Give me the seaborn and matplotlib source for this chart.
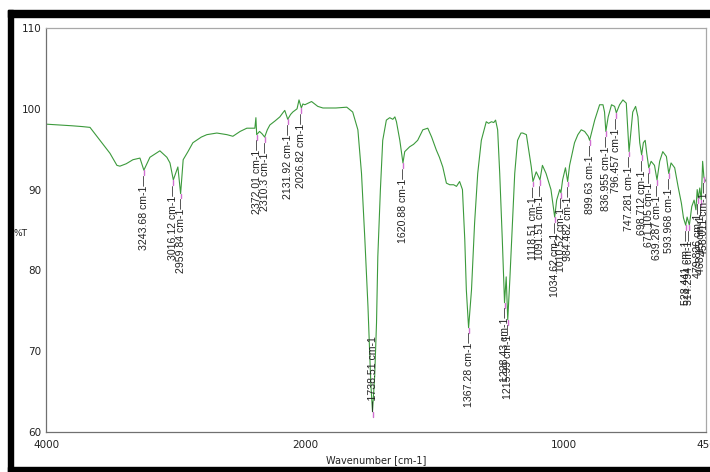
import numpy as np
import matplotlib
matplotlib.use("Agg")
import matplotlib.pyplot as plt
from matplotlib.patches import Rectangle
import seaborn as sns

# IR spectrum (wavenumber in cm-1, transmittance in %T)
wavenumber = [
    4000, 3900, 3800, 3720, 3660, 3583, 3506, 3452, 3429, 3380, 3328, 3274,
    3243.68, 3197, 3120, 3066, 3042, 3016.12, 2981, 2959.84, 2940, 2903, 2865,
    2800, 2757, 2680, 2602, 2556, 2500, 2448, 2386, 2378, 2372.01, 2350, 2330,
    2310.3, 2290, 2270, 2230, 2193, 2170, 2155, 2131.92, 2110, 2093, 2060, 2045,
    2026.82, 2015, 2000, 1974, 1950, 1930, 1880, 1838, 1815, 1795, 1781, 1768,
    1756, 1745, 1738.51, 1730, 1723, 1718, 1708, 1699, 1685, 1672, 1660, 1652,
    1646, 1633, 1620.88, 1614, 1595, 1580, 1564, 1544, 1525, 1510, 1492, 1480,
    1467, 1453, 1440, 1425, 1414, 1402, 1391, 1382, 1376, 1367.28, 1356, 1344,
    1332, 1318, 1299, 1290, 1279, 1270, 1263, 1255, 1247, 1237, 1228.43, 1222,
    1215.99, 1208, 1198, 1189, 1178, 1165, 1158, 1144, 1135, 1125, 1118.51,
    1106, 1097, 1091.51, 1082, 1068, 1049, 1034.62, 1027, 1015, 1010.52, 1004,
    993, 984.482, 977, 958, 945, 932, 919, 905, 899.63, 880, 861, 848, 842,
    836.955, 828, 815, 803, 796.457, 784, 771, 758, 747.281, 733, 722, 713, 706,
    698.712, 692, 685, 679, 671.105, 662, 649, 639.287, 629, 617, 603, 593.968,
    585, 571, 558, 545, 537, 528.441, 523, 514.294, 505, 496, 489, 484, 479.826,
    474, 468.15, 463, 458.011, 450,
]
transmittance = [
    98.1, 98.0, 97.9, 97.8, 97.7, 96.1, 94.5, 93.0, 92.9, 93.2, 93.7, 93.9,
    92.4, 94.0, 94.8, 94.0, 93.3, 91.2, 92.8, 89.5, 93.7, 94.7, 95.8,
    96.5, 96.8, 97.0, 96.8, 96.6, 97.2, 97.6, 97.6, 98.9, 96.8, 97.2, 96.9,
    96.5, 97.4, 98.0, 98.5, 99.0, 99.5, 99.8, 98.7, 99.3, 99.6, 100.0, 101.1,
    100.1, 100.6, 100.5, 100.9, 100.3, 100.1, 100.1, 100.2, 99.6, 97.4, 92.0, 83.8,
    75.5, 66.0, 62.5, 67.0, 73.5, 81.7, 90.0, 96.1, 98.6, 98.9, 98.7, 99.0,
    98.4, 96.1, 93.3, 94.7, 95.3, 95.6, 96.1, 97.4, 97.6, 96.5, 94.9, 94.0,
    92.8, 90.8, 90.6, 90.6, 90.4, 91.0, 90.0, 83.8, 77.6, 72.9, 77.6, 85.9,
    92.0, 96.1, 98.4, 98.2, 98.4, 98.3, 98.6, 97.4, 92.0, 83.8, 76.0, 79.2,
    73.9, 78.8, 85.9, 92.0, 96.1, 97.0, 97.0, 96.8, 94.9, 92.8, 91.0,
    92.2, 91.6, 91.2, 93.0, 92.0, 90.0, 86.6, 88.7, 90.0, 89.6, 91.2,
    92.7, 91.0, 93.0, 95.8, 96.8, 97.4, 97.2, 96.6, 96.1, 98.6, 100.5, 100.5, 99.6,
    97.2, 99.0, 100.5, 100.3, 99.5, 100.5, 101.1, 100.7, 94.7, 99.6, 100.3, 99.0, 95.8,
    94.3, 95.8, 96.1, 94.5, 92.7, 93.5, 93.0, 91.2, 93.5, 94.7, 94.1, 92.0,
    93.3, 92.7, 90.4, 88.3, 86.5, 85.6, 86.6, 85.6, 87.9, 88.7, 87.5, 90.0, 88.9,
    90.2, 88.7, 93.5, 91.5, 91.0,
]

# picked peaks
peak_labels = [
    "3243.68", "3016.12", "2959.84", "2372.01", "2310.3", "2131.92", "2026.82",
    "1738.51", "1620.88", "1367.28", "1228.43", "1215.99", "1118.51", "1091.51",
    "1034.62", "1010.52", "984.482", "899.63", "836.955", "796.457", "747.281",
    "698.712", "671.105", "639.287", "593.968", "528.441", "514.294", "479.826",
    "468.15", "458.011",
]
peak_T = [
    92.4, 91.2, 89.5, 96.8, 96.5, 98.7, 100.1,
    62.5, 93.3, 72.9, 76.0, 73.9, 91.0, 91.2,
    86.6, 89.6, 91.0, 96.1, 97.2, 99.5, 94.7,
    94.3, 92.7, 91.2, 92.0, 85.6, 85.6, 88.9,
    88.7, 91.5,
]

x_major = [4000, 2000, 1000, 450]
x_minor = [3000, 1500, 500]
y_major = [60, 70, 80, 90, 100, 110]
y_minor = [65, 75, 85, 95, 105]


# the x axis is expanded by 2 below 2000 cm-1
def fwd(x):
    x = np.asarray(x, dtype=float)
    return np.where(x >= 2000, x, 2000 - 2 * (2000 - x))


def inv(u):
    u = np.asarray(u, dtype=float)
    return np.where(u >= 2000, u, 2000 - (2000 - u) / 2)


sns.set_style("white")
narrow = ["Liberation Sans Narrow", "DejaVu Sans"]
regular = ["Liberation Sans", "DejaVu Sans"]
plt.rcParams["font.family"] = regular

fig = plt.figure(figsize=(7.1, 4.72), dpi=100)
ax = fig.add_axes([46 / 710, 40 / 472, 660 / 710, 404 / 472])

ax.set_xscale("function", functions=(fwd, inv))
sns.lineplot(x=wavenumber, y=transmittance, ax=ax, color="#3c9a3c",
             linewidth=0.8, sort=False, estimator=None)
ax.set_xlim(4000, 450)
ax.set_ylim(60, 110)

# peak markers and labels
for lab, t in zip(peak_labels, peak_T):
    wn = float(lab)
    ax.plot([wn, wn], [t, t - 0.6], color="#d070d0", lw=1.0)
    if t < 70:
        ax.text(wn, t + 0.1, "\u2014" + lab + " cm-1", rotation=90, ha="center",
                va="bottom", fontsize=7.6, color="#222222", family=regular)
    else:
        ax.text(wn, t - 0.6, lab + " cm-1\u2014", rotation=90, ha="center",
                va="top", fontsize=7.6, color="#222222", family=regular)

ax.set_xticks(x_major, labels=[str(v) for v in x_major])
ax.set_xticks(x_minor, minor=True)
ax.set_yticks(y_major, labels=[str(v) for v in y_major])
ax.set_yticks(y_minor, minor=True)
ax.tick_params(axis="x", which="major", direction="in", length=5, width=0.8,
               color="#555555", pad=6, labelsize=7.5, labelcolor="#222222")
ax.tick_params(axis="x", which="minor", direction="in", length=3, width=0.8,
               color="#555555")
ax.tick_params(axis="y", which="major", direction="out", length=3, width=0.8,
               color="#555555", pad=0.5, labelsize=7.5, labelcolor="#222222")
ax.tick_params(axis="y", which="minor", direction="in", length=1.5, width=0.8,
               color="#555555")
for lab in ax.get_xticklabels() + ax.get_yticklabels():
    lab.set_family(narrow)

for side in ["left", "bottom"]:
    ax.spines[side].set_color("#707070")
    ax.spines[side].set_linewidth(0.9)
for side in ["top", "right"]:
    ax.spines[side].set_color("#a8a8a8")
    ax.spines[side].set_linewidth(0.9)

ax.set_xlabel("Wavenumber [cm-1]", fontsize=7, family=narrow, color="#222222")
ax.xaxis.set_label_coords(0.5, -0.058)
ax.set_ylabel("%T", fontsize=6.5, family=narrow, rotation=0, color="#222222")
ax.yaxis.set_label_coords(-0.038, 0.48)

# black frame around the screenshot
frame = dict(transform=fig.transFigure, color="black", zorder=10)
fig.patches.append(Rectangle((8 / 710, (472 - 17) / 472), 1, 7 / 472, **frame))
fig.patches.append(Rectangle((8 / 710, 0), 5 / 710, (472 - 10) / 472, **frame))
fig.patches.append(Rectangle((8 / 710, 0), 1, 5 / 472, **frame))

fig.savefig("out.png", dpi=100)
